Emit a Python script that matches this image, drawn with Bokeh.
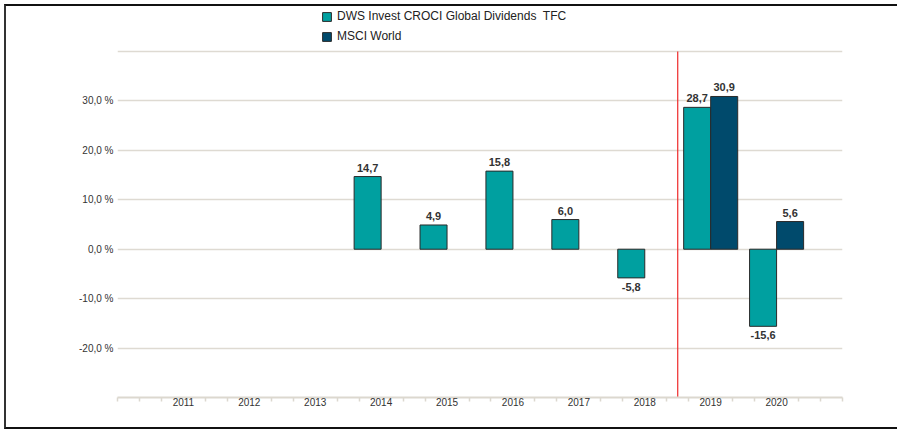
from bokeh.plotting import figure
from bokeh.models import ColumnDataSource, FixedTicker, Legend, LegendItem
from bokeh.core.properties import value
from bokeh.embed import file_html
from bokeh.resources import INLINE

years = ["2011", "2012", "2013", "2014", "2015", "2016", "2017", "2018", "2019", "2020"]
dws_years = ["2014", "2015", "2016", "2017", "2018", "2019", "2020"]
dws_values = [14.7, 4.9, 15.8, 6.0, -5.8, 28.7, -15.6]
msci_years = ["2019", "2020"]
msci_values = [30.9, 5.6]
y_ticks = [-20, -10, 0, 10, 20, 30]
y_tick_labels = ["-20,0 %", "-10,0 %", "0,0 %", "10,0 %", "20,0 %", "30,0 %"]
series_names = ["DWS Invest CROCI Global Dividends  TFC", "MSCI World"]
divider_before = "2019"

Y_MIN, Y_MAX = -30, 40
TEAL = "#00a0a0"
NAVY = "#004a6c"
FONT = "Liberation Sans"
BAR_W = 0.41

FRAME_H = 391
PLOT_H_DATA = 346  # px between Y_MIN and Y_MAX
y_top = Y_MIN + (Y_MAX - Y_MIN) * FRAME_H / PLOT_H_DATA


def fmt(v):
    return ("%.1f" % v).replace(".", ",")


def make_src(ys, vals, offset):
    xs = [years.index(y) + offset for y in ys]
    pos = [v >= 0 for v in vals]
    return ColumnDataSource(dict(
        x=xs, top=vals,
        label=[fmt(v) for v in vals],
        ly=vals,
        yoff=[-5 if q else 5 for q in pos],
        base=["bottom" if q else "top" for q in pos],
    ))


dws_src = make_src(dws_years, dws_values, -BAR_W / 2)
msci_src = make_src(msci_years, msci_values, BAR_W / 2)

p = figure(width=893, height=425, x_range=(-1, len(years)), y_range=(Y_MIN, y_top),
           output_backend="svg", toolbar_location=None,
           min_border_left=111, min_border_right=57, min_border_top=0, min_border_bottom=34)
p.styles = {"margin-left": "4px", "margin-top": "4px",
            "border-left": "2px solid #333", "border-top": "2px solid #111",
            "border-bottom": "2px solid #111", "border-right": "none"}
p.outline_line_color = None
p.background_fill_color = "white"

# grid
p.xgrid.grid_line_color = None
p.ygrid.ticker = FixedTicker(ticks=y_ticks + [Y_MAX])
p.ygrid.grid_line_color = "#dedad2"
p.ygrid.grid_line_width = 1.5

# y axis
p.yaxis.ticker = FixedTicker(ticks=y_ticks)
p.yaxis.major_label_overrides = {t: l for t, l in zip(y_ticks, y_tick_labels)}
p.yaxis.axis_line_color = None
p.yaxis.major_tick_line_color = None
p.yaxis.minor_tick_line_color = None
p.yaxis.major_tick_out = 0
p.yaxis.major_tick_in = 0
p.yaxis.minor_tick_out = 0
p.yaxis.major_label_text_font = FONT
p.yaxis.major_label_text_font_size = "10px"
p.yaxis.major_label_text_color = "#333333"
p.yaxis.major_label_standoff = 4

# x axis
n = len(years)
minor = [k / 3 for k in range(-3, 3 * n + 1) if not (k % 3 == 0 and 0 <= k // 3 <= n - 1)]
p.xaxis.ticker = FixedTicker(ticks=list(range(n)), minor_ticks=minor)
p.xaxis.major_label_overrides = {i: y for i, y in enumerate(years)}
p.xaxis.axis_line_color = "#dcd8cf"
p.xaxis.axis_line_width = 2
p.xaxis.major_tick_line_color = None
p.xaxis.minor_tick_line_color = "#dcd8cf"
p.xaxis.minor_tick_line_width = 1.5
p.xaxis.minor_tick_out = 4
p.xaxis.minor_tick_in = 0
p.xaxis.major_label_text_font = FONT
p.xaxis.major_label_text_font_size = "10px"
p.xaxis.major_label_text_color = "#333333"
p.xaxis.major_label_standoff = -6

r1 = p.vbar(x="x", top="top", bottom=0, width=BAR_W, source=dws_src,
            fill_color=TEAL, line_color="#2a2a2a", line_width=1)
r2 = p.vbar(x="x", top="top", bottom=0, width=BAR_W, source=msci_src,
            fill_color=NAVY, line_color="#2a2a2a", line_width=1)

for src in (dws_src, msci_src):
    p.text(x="x", y="ly", text="label", source=src, y_offset="yoff",
           text_baseline="base", text_align="center",
           text_font=value(FONT), text_font_size="11px", text_font_style="bold",
           text_color="#333333")

xd = years.index(divider_before) - 0.5
p.segment(x0=[xd], y0=[Y_MIN], x1=[xd], y1=[Y_MAX], line_color="#ee2a2a", line_width=1.2)

legend = Legend(items=[LegendItem(label=series_names[0], renderers=[r1]),
                       LegendItem(label=series_names[1], renderers=[r2])],
                location=(204, FRAME_H - 40), orientation="vertical",
                padding=0, margin=0, spacing=0, glyph_width=11, glyph_height=11,
                label_height=20, label_standoff=5,
                label_text_font=FONT, label_text_font_size="12px", label_text_color="#222222",
                border_line_color=None, background_fill_alpha=0)
p.add_layout(legend, "center")

open("out.html", "w").write(file_html(p, INLINE))
